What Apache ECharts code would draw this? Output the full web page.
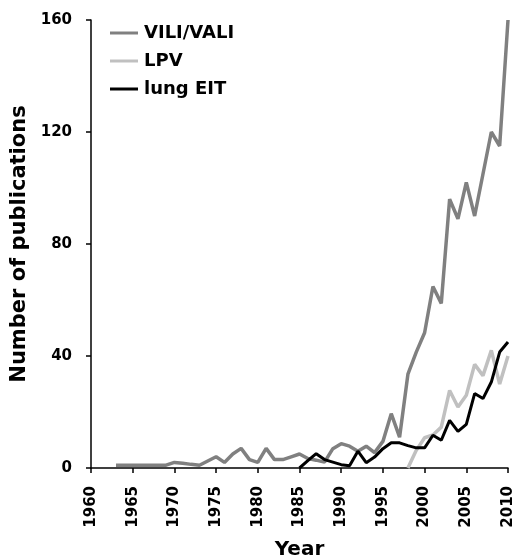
<!DOCTYPE html>
<html>
<head>
<meta charset="utf-8">
<script src="https://cdn.jsdelivr.net/npm/echarts@6/dist/echarts.min.js"></script>
<style>
html,body{margin:0;padding:0;background:#fff;}
#chart{width:515px;height:560px;}
</style>
</head>
<body>
<div id="chart"></div>
<script>
const yTicks = [0, 40, 80, 120, 160];
const xTicks = [1960, 1965, 1970, 1975, 1980, 1985, 1990, 1995, 2000, 2005, 2010];

const viliYears = [1963,1964,1965,1966,1967,1968,1969,1970,1971,1972,1973,1974,1975,1976,1977,1978,1979,1980,1981,1982,1983,1984,1985,1986,1987,1988,1989,1990,1991,1992,1993,1994,1995,1996,1997,1998,1999,2000,2001,2002,2003,2004,2005,2006,2007,2008,2009,2010];
const viliValues = [1,1,1,1,1,1,1,2,1.7,1.3,1,2.5,4,2,5,7,3,2,7,3,3,4,5,3.4,2.8,2.1,6.9,8.7,7.8,6,7.8,5.5,9.5,19.4,11,33.5,41.4,48.3,64.8,58.8,96,89,102,90,105,120,115,160];

const lpvYears = [1998,1999,2000,2001,2002,2003,2004,2005,2006,2007,2008,2009,2010];
const lpvValues = [0,6.3,10.8,11.8,14.6,27.7,21.8,26,37,33,42,30,40];

const eitYears = [1985,1986,1987,1988,1989,1990,1991,1992,1993,1994,1995,1996,1997,1998,1999,2000,2001,2002,2003,2004,2005,2006,2007,2008,2009,2010];
const eitValues = [0,2.6,5.1,3,2.1,1.2,0.8,6,1.9,3.9,6.9,9,9,8,7.2,7.2,11.7,9.9,17,13.1,15.6,26.6,24.8,30.7,41.4,45];

const seriesNames = ['VILI/VALI', 'LPV', 'lung EIT'];
const seriesColors = ['#808080', '#c0c0c0', '#000000'];

function pairs(xs, ys){ return xs.map((x,i)=>[x, ys[i]]); }

const FONT = '"DejaVu Sans", sans-serif';
const chart = echarts.init(document.getElementById('chart'), null, {renderer:'canvas'});
chart.setOption({
  animation: false,
  backgroundColor: '#fff',
  grid: {left: 91, right: 7, top: 20, bottom: 92, containLabel: false, outerBoundsMode: 'none'},
  legend: {
    left: 105, top: 19, orient: 'vertical',
    itemWidth: 28, itemHeight: 3, itemGap: 10,
    textStyle: {fontFamily: FONT, fontWeight: 'bold', fontSize: 18, color: '#000', padding: [0,0,0,1]},
    data: seriesNames.map(n => ({name: n, icon: 'rect'}))
  },
  xAxis: {
    type: 'value', min: xTicks[0], max: xTicks[xTicks.length-1], interval: 5,
    name: 'Year', nameLocation: 'middle', nameGap: 72,
    nameTextStyle: {fontFamily: FONT, fontWeight: 'bold', fontSize: 20, color: '#000'},
    axisLine: {lineStyle: {color: '#000', width: 1.5}},
    axisTick: {show: true, inside: false, length: 5, lineStyle: {color: '#000', width: 1.5}},
    axisLabel: {rotate: 90, margin: 18, fontFamily: FONT, fontWeight: 'bold', fontSize: 15, color: '#000', formatter: v => String(v)},
    splitLine: {show: false}
  },
  yAxis: {
    type: 'value', min: yTicks[0], max: yTicks[yTicks.length-1], interval: 40,
    name: 'Number of publications', nameLocation: 'middle', nameGap: 54,
    nameTextStyle: {fontFamily: FONT, fontWeight: 'bold', fontSize: 21, color: '#000'},
    axisLine: {show: true, lineStyle: {color: '#000', width: 1.5}},
    axisTick: {show: true, inside: false, length: 5, lineStyle: {color: '#000', width: 1.5}},
    axisLabel: {margin: 19, fontFamily: FONT, fontWeight: 'bold', fontSize: 15, color: '#000'},
    splitLine: {show: false}
  },
  series: [
    {name: seriesNames[0], type: 'line', data: pairs(viliYears, viliValues), symbol: 'none', color: seriesColors[0], lineStyle: {width: 3.5, color: seriesColors[0]}, z: 2},
    {name: seriesNames[1], type: 'line', data: pairs(lpvYears, lpvValues), symbol: 'none', color: seriesColors[1], lineStyle: {width: 3.5, color: seriesColors[1]}, z: 3},
    {name: seriesNames[2], type: 'line', data: pairs(eitYears, eitValues), symbol: 'none', color: seriesColors[2], lineStyle: {width: 3, color: seriesColors[2]}, z: 4}
  ]
});
</script>
</body>
</html>
